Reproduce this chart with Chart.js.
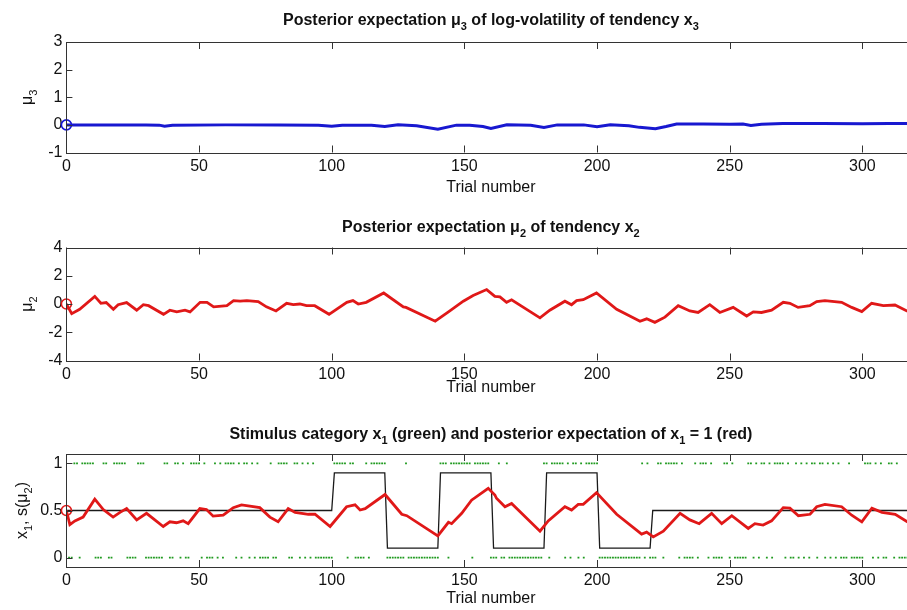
<!DOCTYPE html>
<html><head><meta charset="utf-8">
<script src="https://cdn.jsdelivr.net/npm/chart.js@4/dist/chart.umd.min.js"></script>
<style>
html,body{margin:0;padding:0;background:#fff;overflow:hidden;width:907px;height:610px;position:relative}
canvas{position:absolute;left:0}
</style></head><body>
<canvas id="c1" width="930" height="200" style="top:0px;width:930px;height:200px"></canvas>
<canvas id="c2" width="930" height="205" style="top:200px;width:930px;height:205px"></canvas>
<canvas id="c3" width="930" height="205" style="top:405px;width:930px;height:205px"></canvas>
<script>
// ---------- data ----------
const xTicks = [0, 50, 100, 150, 200, 250, 300];
const mu3Ticks = [-1, 0, 1, 2, 3];
const mu2Ticks = [-4, -2, 0, 2, 4];
const x1Ticks = [0, 0.5, 1];

// posterior expectation mu3 (log-volatility)
const mu3X = [0, 10, 20, 30, 35, 37, 40, 60, 80, 95, 100, 104, 115, 120, 125, 132, 140, 147, 152, 157, 160, 166, 175, 180, 185, 195, 200, 205, 212, 216, 222, 226, 230, 240, 250, 255, 258, 262, 270, 285, 300, 310, 320];
const mu3Y = [0, 0, 0, 0, -0.01, -0.05, -0.01, 0, 0, -0.01, -0.05, -0.01, -0.01, -0.06, 0, -0.03, -0.16, -0.01, -0.01, -0.06, -0.13, 0, -0.01, -0.09, 0, 0, -0.07, 0, -0.03, -0.09, -0.14, -0.06, 0.03, 0.03, 0.02, 0.03, -0.02, 0.02, 0.05, 0.05, 0.04, 0.05, 0.05];

// posterior expectation mu2 (tendency)
const mu2X = [0, 2, 5, 10.7, 13, 15, 17.7, 19.5, 22.7, 26.5, 29, 31, 36.6, 39, 41.6, 44.7, 46.6, 50.4, 53, 55.5, 60.5, 63, 65.5, 68, 72.3, 75.4, 79, 83, 85.5, 88, 90.5, 93.6, 99, 105.7, 108, 110, 113, 119.6, 127, 128, 139, 144, 149.6, 153.3, 158.4, 161.5, 163.4, 165.9, 167.8, 178.5, 182.2, 187.9, 190.4, 192.3, 194.8, 199.8, 207.4, 216.2, 218.7, 221.8, 225.6, 230.6, 235, 238.1, 242.5, 246.3, 251.3, 256.4, 258.9, 262, 265.8, 270.2, 272.7, 275.8, 280.2, 282.8, 285.9, 292.2, 296, 299.8, 303.5, 307.9, 312.3, 316.8, 320];
const mu2Y = [0, -0.68, -0.37, 0.54, 0.05, 0.1, -0.37, -0.05, 0.1, -0.44, -0.05, -0.12, -0.73, -0.44, -0.56, -0.44, -0.56, 0.12, 0.12, -0.2, -0.12, 0.24, 0.2, 0.24, 0.17, -0.2, -0.49, 0.05, -0.05, 0, -0.12, -0.12, -0.73, 0.12, 0.24, 0, 0.12, 0.78, -0.2, -0.24, -1.22, -0.56, 0.2, 0.6, 1.02, 0.54, 0.5, 0.12, 0.3, -0.98, -0.44, 0.2, -0.05, 0.24, 0.3, 0.78, -0.37, -1.22, -1.05, -1.3, -0.93, -0.12, -0.49, -0.6, -0.05, -0.6, -0.24, -0.85, -0.56, -0.6, -0.44, 0.12, 0.05, -0.24, -0.12, 0.17, 0.24, 0.12, -0.24, -0.54, 0.05, -0.12, -0.07, -0.49, -0.6];

// posterior expectation of x1 = 1, s(mu2)
const sX = [0, 1.3, 3.2, 6.3, 10.7, 13.9, 17.6, 20.2, 22.7, 26.5, 30.2, 36.5, 39, 41.5, 44, 45.9, 50.3, 52.8, 55.3, 59.1, 62.9, 66, 72.9, 76.7, 79.8, 83.6, 86.2, 88.7, 91.2, 93.7, 99.4, 105.6, 108.8, 110.7, 112.6, 120.1, 126.4, 128.3, 140, 144, 145.2, 149, 152.7, 159, 161.5, 162.1, 165.3, 167.8, 178.5, 181.6, 187.9, 190.4, 192.9, 194.8, 199.8, 207.4, 216.8, 218.7, 221.2, 225, 231.3, 235, 238.5, 243.2, 247, 250.8, 257, 259.5, 262.6, 265.8, 270.2, 272.7, 275.9, 280.3, 282.8, 285.9, 292.2, 296, 299.8, 303.6, 307.4, 312.4, 316.9, 320];
const sY = [0.5, 0.35, 0.39, 0.43, 0.62, 0.51, 0.43, 0.48, 0.52, 0.40, 0.47, 0.33, 0.38, 0.37, 0.39, 0.36, 0.52, 0.51, 0.44, 0.45, 0.53, 0.56, 0.53, 0.43, 0.38, 0.52, 0.48, 0.47, 0.46, 0.46, 0.33, 0.54, 0.56, 0.505, 0.52, 0.67, 0.46, 0.445, 0.23, 0.375, 0.36, 0.47, 0.61, 0.735, 0.665, 0.63, 0.54, 0.575, 0.28, 0.39, 0.54, 0.505, 0.565, 0.565, 0.69, 0.46, 0.25, 0.27, 0.22, 0.28, 0.47, 0.40, 0.36, 0.47, 0.36, 0.445, 0.31, 0.36, 0.345, 0.39, 0.53, 0.525, 0.445, 0.46, 0.54, 0.565, 0.54, 0.45, 0.38, 0.525, 0.48, 0.46, 0.38, 0.35];

// true probability of x1 = 1 (black)
const probX = [0, 100, 101, 120, 121, 140, 141, 160, 161, 180, 181, 200, 201, 220, 221, 320];
const probY = [0.5, 0.5, 0.9, 0.9, 0.1, 0.1, 0.9, 0.9, 0.1, 0.1, 0.9, 0.9, 0.1, 0.1, 0.5, 0.5];

// stimulus category x1 per trial (trials 1..320)
const stimulus = [
0,0,1,1,0,1,1,1,1,1, 0,0,0,1,1,0,0,1,1,1, 1,1,0,0,0,0,1,1,1,0, 0,0,0,0,0,0,1,1,0,0,
1,1,0,1,0,0,1,1,1,1, 0,1,0,0,0,1,0,1,0,1, 1,1,1,0,1,0,1,1,0,1, 0,1,0,0,0,0,1,0,0,1,
1,1,1,0,0,1,1,0,1,0, 1,0,1,0,0,0,0,0,0,0, 1,1,1,1,1,0,1,1,0,0, 0,0,1,0,1,1,1,1,1,1,
0,0,0,0,0,0,0,1,0,0, 0,0,0,0,0,0,0,0,0,0, 1,1,1,0,1,1,1,1,1,1, 1,1,0,1,1,1,1,1,1,0,
0,0,1,0,0,1,0,0,0,0, 0,0,0,0,0,0,0,0,0,1, 1,0,1,1,1,1,1,0,1,0, 1,1,0,1,0,1,1,1,1,1,
0,0,0,0,0,0,0,0,0,0, 0,0,0,0,0,0,1,0,1,0, 0,0,1,1,0,1,1,1,1,1, 0,1,0,0,0,0,1,0,1,1,
1,0,1,0,0,0,0,1,1,0, 1,0,0,0,0,0,1,1,0,1, 0,1,1,0,1,0,1,1,1,1, 0,1,0,0,1,0,1,0,1,0,
1,1,0,1,1,0,1,0,1,0, 1,0,0,0,1,0,0,0,0,0, 1,1,1,0,1,0,1,0,0,1, 1,0,1,0,0,0,0,1,0,1
];

// ---------- helpers ----------
const FONT = '"Liberation Sans", Arial, Helvetica, sans-serif';
const pts = (xs, ys) => xs.map((x, i) => ({x: x, y: ys[i]}));

function drawRich(ctx, parts, x, y, size, bold, rot) {
  ctx.save();
  ctx.translate(x, y);
  if (rot) ctx.rotate(-Math.PI / 2);
  ctx.fillStyle = '#111';
  ctx.textAlign = 'left';
  ctx.textBaseline = 'alphabetic';
  const fontOf = p => (bold ? 'bold ' : '') + (p[1] ? Math.round(size * 0.7) : size) + 'px ' + FONT;
  let total = 0;
  parts.forEach(p => { ctx.font = fontOf(p); total += ctx.measureText(p[0]).width; });
  let cx = -total / 2;
  const base = size * 0.36;
  parts.forEach(p => {
    ctx.font = fontOf(p);
    ctx.fillText(p[0], cx, p[1] ? base + size * 0.3 : base);
    cx += ctx.measureText(p[0]).width;
  });
  ctx.restore();
}

function matlabPlugin(cfg) {
  return {
    id: 'matlab',
    afterDraw(chart) {
      const ctx = chart.ctx, a = chart.chartArea;
      const xs = chart.scales.x, ys = chart.scales.y;
      ctx.save();
      ctx.strokeStyle = '#333';
      ctx.lineWidth = 1;
      ctx.strokeRect(Math.round(a.left) + 0.5, Math.round(a.top) + 0.5, Math.round(a.right - a.left), Math.round(a.bottom - a.top));
      ctx.beginPath();
      xTicks.forEach(v => {
        const px = Math.round(xs.getPixelForValue(v)) + 0.5;
        ctx.moveTo(px, a.bottom); ctx.lineTo(px, a.bottom - 7);
        ctx.moveTo(px, a.top); ctx.lineTo(px, a.top + 7);
      });
      cfg.yTicks.forEach(v => {
        const py = Math.round(ys.getPixelForValue(v)) + 0.5;
        ctx.moveTo(a.left, py); ctx.lineTo(a.left + 6, py);
        ctx.moveTo(a.right, py); ctx.lineTo(a.right - 6, py);
      });
      ctx.stroke();
      ctx.restore();
      drawRich(ctx, cfg.title, (a.left + a.right) / 2, cfg.titleY, 16, true, false);
      drawRich(ctx, [['Trial number', 0]], (a.left + a.right) / 2, cfg.xlabY, 16, false, false);
      drawRich(ctx, cfg.ylabel, cfg.ylabX, (a.top + a.bottom) / 2, 16, false, true);
    }
  };
}

function makeChart(id, cfg, datasets) {
  const H = cfg.H;
  return new Chart(document.getElementById(id), {
    type: 'line',
    data: { datasets: datasets },
    options: {
      responsive: false,
      animation: false,
      devicePixelRatio: 1,
      layout: { padding: { top: cfg.plotTop, right: 930 - 915.4, left: 0, bottom: 0 } },
      plugins: { legend: { display: false }, title: { display: false }, tooltip: { enabled: false } },
      elements: { line: { tension: 0 }, point: { radius: 0 } },
      scales: {
        x: {
          type: 'linear', min: 0, max: 320,
          grid: { display: false, drawTicks: false, tickLength: 0 }, border: { display: false },
          afterBuildTicks: s => { s.ticks = xTicks.map(v => ({ value: v })); },
          afterFit: s => { s.height = H - cfg.plotBottom; },
          ticks: { color: '#111', font: { family: FONT, size: 16 }, padding: 4, maxRotation: 0, autoSkip: false }
        },
        y: {
          type: 'linear', min: cfg.yMin, max: cfg.yMax,
          grid: { display: false, drawTicks: false, tickLength: 0 }, border: { display: false },
          afterBuildTicks: s => { s.ticks = cfg.yTicks.map(v => ({ value: v })); },
          afterFit: s => { s.width = 66.4; },
          ticks: { color: '#111', font: { family: FONT, size: 16 }, padding: 4, autoSkip: false, callback: v => String(v) }
        }
      }
    },
    plugins: [matlabPlugin(cfg)]
  });
}

const circle = (x, y, color) => ({
  type: 'scatter', data: [{ x: x, y: y }], pointRadius: 5, pointStyle: 'circle',
  pointBorderColor: color, pointBackgroundColor: 'rgba(0,0,0,0)', pointBorderWidth: 1.6, clip: false, order: 0
});

// ---------- chart 1 ----------
makeChart('c1', {
  H: 200, plotTop: 42, plotBottom: 152.5, yMin: -1, yMax: 3, yTicks: mu3Ticks,
  titleY: 19, xlabY: 186, ylabX: 26,
  title: [['Posterior expectation μ', 0], ['3', 1], [' of log-volatility of tendency x', 0], ['3', 1]],
  ylabel: [['μ', 0], ['3', 1]]
}, [
  circle(0, 0, '#1515d8'),
  { data: pts(mu3X, mu3Y), borderColor: '#1818d0', borderWidth: 3, pointRadius: 0, order: 1 }
]);

// ---------- chart 2 ----------
makeChart('c2', {
  H: 205, plotTop: 47.5, plotBottom: 160.5, yMin: -4, yMax: 4, yTicks: mu2Ticks,
  titleY: 26, xlabY: 186, ylabX: 26,
  title: [['Posterior expectation μ', 0], ['2', 1], [' of tendency x', 0], ['2', 1]],
  ylabel: [['μ', 0], ['2', 1]]
}, [
  circle(0, 0, '#e01818'),
  { data: pts(mu2X, mu2Y), borderColor: '#e01818', borderWidth: 2.8, pointRadius: 0, order: 1 }
]);

// ---------- chart 3 ----------
makeChart('c3', {
  H: 205, plotTop: 49, plotBottom: 162, yMin: -0.1, yMax: 1.1, yTicks: x1Ticks,
  titleY: 28, xlabY: 192, ylabX: 21,
  title: [['Stimulus category x', 0], ['1', 1], [' (green) and posterior expectation of x', 0], ['1', 1], [' = 1 (red)', 0]],
  ylabel: [['x', 0], ['1', 1], [', s(μ', 0], ['2', 1], [')', 0]]
}, [
  circle(0, 0.5, '#e01818'),
  { data: pts(sX, sY), borderColor: '#e01818', borderWidth: 2.8, pointRadius: 0, order: 1 },
  { data: pts(probX, probY), borderColor: '#1a1a1a', borderWidth: 1.3, pointRadius: 0, order: 2 },
  { type: 'scatter', data: stimulus.map((v, i) => ({ x: i + 1, y: v })), pointRadius: 1.3, pointStyle: 'rect',
    pointBackgroundColor: '#1f9a1f', pointBorderWidth: 0, showLine: false, order: 3 }
]);
</script>
</body></html>
